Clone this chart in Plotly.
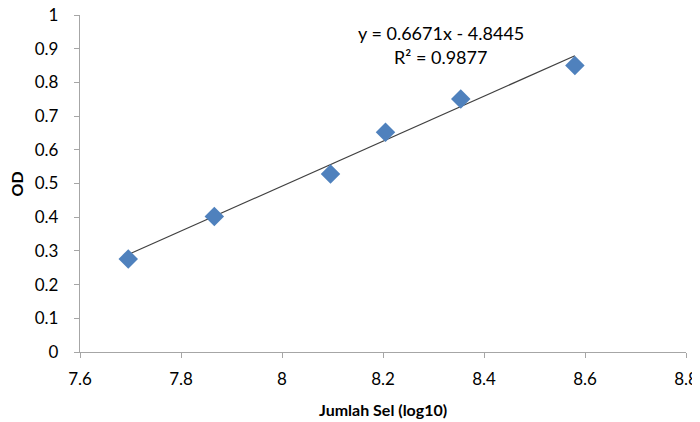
import plotly.graph_objects as go

# Data
jumlah_sel_log10 = [7.6955, 7.866, 8.096, 8.205, 8.354, 8.580]
od_values = [0.276, 0.402, 0.528, 0.652, 0.751, 0.850]
slope = 0.6671
intercept = -4.8445
equation_text = "y = 0.6671x - 4.8445"
r2_text = "R² = 0.9877"
x_ticks = [7.6, 7.8, 8.0, 8.2, 8.4, 8.6, 8.8]
x_tick_labels = ["7.6", "7.8", "8", "8.2", "8.4", "8.6", "8.8"]
y_ticks = [0, 0.1, 0.2, 0.3, 0.4, 0.5, 0.6, 0.7, 0.8, 0.9, 1.0]
y_tick_labels = ["0", "0.1", "0.2", "0.3", "0.4", "0.5", "0.6", "0.7", "0.8", "0.9", "1"]

trend_x = [min(jumlah_sel_log10), max(jumlah_sel_log10)]
trend_y = [slope * v + intercept for v in trend_x]

FONT = "Lato, 'Open Sans', sans-serif"

fig = go.Figure()
fig.add_trace(go.Scatter(
    x=trend_x, y=trend_y, mode="lines",
    line=dict(color="#404040", width=1.2), showlegend=False, hoverinfo="skip"))
fig.add_trace(go.Scatter(
    x=jumlah_sel_log10, y=od_values, mode="markers",
    marker=dict(symbol="diamond", size=15, color="#4F81BD"), showlegend=False))

fig.add_annotation(
    x=8.314, y=0.947, xref="x", yref="y", yanchor="middle",
    text=equation_text, showarrow=False,
    font=dict(family=FONT, size=18, color="#000000"))
fig.add_annotation(
    x=8.314, y=0.876, xref="x", yref="y", yanchor="middle",
    text=r2_text, showarrow=False,
    font=dict(family=FONT, size=18, color="#000000"))

fig.add_annotation(
    x=0.5, y=-0.172, xref="paper", yref="paper", yanchor="middle",
    text="<b>Jumlah Sel (log10)</b>", showarrow=False,
    font=dict(family=FONT, size=16, color="#000000"))
fig.add_annotation(
    x=-0.104, y=0.5, xref="paper", yref="paper", xanchor="center", yanchor="middle",
    text="<b>OD</b>", showarrow=False, textangle=-90,
    font=dict(family=FONT, size=16, color="#000000"))

axis_common = dict(
    showgrid=False, zeroline=False, showline=True, linecolor="#A6A6A6", linewidth=1.3,
    ticks="outside", ticklen=5, tickcolor="#A6A6A6", tickwidth=1.3, automargin=False,
    ticklabeloverflow="allow",
    tickfont=dict(family=FONT, size=17, color="#000000"))

fig.update_layout(
    width=692, height=414,
    margin=dict(l=72, r=14, t=7, b=70),
    paper_bgcolor="white", plot_bgcolor="white",
    xaxis=dict(range=[7.6, 8.8], tickvals=x_ticks, ticktext=x_tick_labels,
               ticklabelstandoff=6, **axis_common),
    yaxis=dict(range=[0, 1], tickvals=y_ticks, ticktext=y_tick_labels,
               ticklabelstandoff=12, **axis_common),
)

fig.write_html("out.html")
